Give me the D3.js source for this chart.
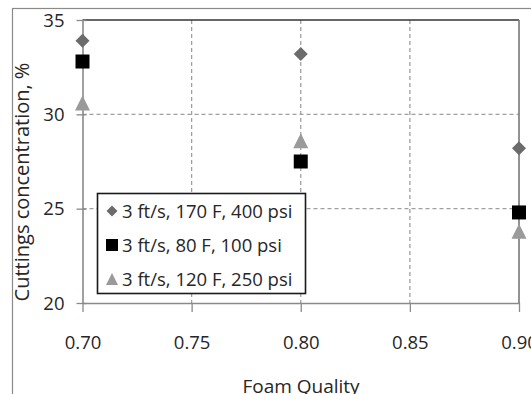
<!DOCTYPE html>
<html>
<head>
<meta charset="utf-8">
<script src="https://cdn.jsdelivr.net/npm/d3@7"></script>
<style>
  html, body { margin: 0; padding: 0; background: #fff; }
  svg { display: block; font-family: "Open Sans", "DejaVu Sans", sans-serif; }
</style>
</head>
<body>
<svg id="chart" width="531" height="394"></svg>
<script>
// Foam quality on the x axis, cuttings concentration (%) per test condition
const foamQuality = [0.70, 0.80, 0.90];
const seriesNames = [
  "3 ft/s, 170 F, 400 psi",
  "3 ft/s, 80 F, 100 psi",
  "3 ft/s, 120 F, 250 psi"
];
const conc170F = [33.9, 33.2, 28.2];
const conc80F = [32.8, 27.5, 24.8];
const conc120F = [30.6, 28.6, 23.8];
const xTicks = [0.70, 0.75, 0.80, 0.85, 0.90];
const yTicks = [20, 25, 30, 35];

const series = [
  { name: seriesNames[0], values: conc170F, shape: "diamond", color: "#6b6b6b" },
  { name: seriesNames[1], values: conc80F, shape: "square", color: "#000000" },
  { name: seriesNames[2], values: conc120F, shape: "triangle", color: "#9a9a9a" }
];

const svg = d3.select("#chart");
const plot = { left: 82.5, right: 519, top: 20, bottom: 303 };

const x = d3.scaleLinear().domain([0.70, 0.90]).range([plot.left, plot.right]);
const y = d3.scaleLinear().domain([20, 35]).range([plot.bottom, plot.top]);

// marker outlines centred on the origin
function markerPath(shape, s) {
  const h = s / 2;
  if (shape === "diamond") return `M0,${-h}L${h},0L0,${h}L${-h},0Z`;
  if (shape === "square") return `M${-h},${-h}H${h}V${h}H${-h}Z`;
  return `M0,${-h}L${h},${h}L${-h},${h}Z`;
}

// outer chart frame
svg.append("rect")
  .attr("x", 12.5).attr("y", 8.5)
  .attr("width", 560).attr("height", 420)
  .attr("fill", "none").attr("stroke", "#8a8a8a").attr("stroke-width", 1.2);

// dashed gridlines
svg.append("g").selectAll("line")
  .data(yTicks.filter(d => d > 20 && d < 35))
  .join("line")
  .attr("x1", plot.left).attr("x2", plot.right)
  .attr("y1", d => y(d)).attr("y2", d => y(d))
  .attr("stroke", "#a0a0a0").attr("stroke-width", 1.3)
  .attr("stroke-dasharray", "4,3");

svg.append("g").selectAll("line")
  .data(xTicks.filter(d => d > 0.70 && d < 0.90))
  .join("line")
  .attr("x1", d => x(d)).attr("x2", d => x(d))
  .attr("y1", plot.top).attr("y2", plot.bottom)
  .attr("stroke", "#a0a0a0").attr("stroke-width", 1.3)
  .attr("stroke-dasharray", "4,3");

// plot area border: top and right
svg.append("line")
  .attr("x1", plot.left).attr("x2", plot.right)
  .attr("y1", plot.top).attr("y2", plot.top)
  .attr("stroke", "#333").attr("stroke-width", 1.6);
svg.append("line")
  .attr("x1", plot.right).attr("x2", plot.right)
  .attr("y1", plot.top).attr("y2", plot.bottom)
  .attr("stroke", "#777").attr("stroke-width", 1.6);

// axes
const xAxis = d3.axisBottom(x).tickValues(xTicks).tickFormat(d3.format(".2f"))
  .tickSizeInner(9).tickSizeOuter(0).tickPadding(24);
const yAxis = d3.axisLeft(y).tickValues(yTicks).tickFormat(d3.format("d"))
  .tickSizeInner(6).tickSizeOuter(0).tickPadding(12);

const gx = svg.append("g").attr("transform", `translate(0,${plot.bottom})`).call(xAxis);
const gy = svg.append("g").attr("transform", `translate(${plot.left},0)`).call(yAxis);

[gx, gy].forEach(g => {
  g.select(".domain").attr("stroke", "#8a8a8a").attr("stroke-width", 1.6);
  g.selectAll(".tick line").attr("stroke", "#8a8a8a").attr("stroke-width", 1.3);
  g.selectAll(".tick text")
    .attr("fill", "#262626")
    .style("font-family", "'Open Sans', sans-serif")
    .style("font-size", "18.5px");
});
gy.selectAll(".tick line").attr("x2", 4).attr("x1", -6);
gy.selectAll(".tick text").attr("dy", "0.34em");

// axis titles
svg.append("text")
  .attr("transform", `translate(29,${182}) rotate(-90)`)
  .attr("text-anchor", "middle")
  .attr("fill", "#262626")
  .style("font-size", "20px")
  .text("Cuttings concentration, %");

svg.append("text")
  .attr("x", 301).attr("y", 393)
  .attr("text-anchor", "middle")
  .attr("fill", "#262626")
  .style("font-size", "19px")
  .text("Foam Quality");

// data markers
const sizes = { diamond: 14, square: 14, triangle: 15 };
series.forEach(s => {
  svg.append("g").selectAll("path")
    .data(foamQuality.map((q, i) => ({ q, v: s.values[i] })))
    .join("path")
    .attr("transform", d => `translate(${x(d.q)},${y(d.v)})`)
    .attr("d", markerPath(s.shape, sizes[s.shape]))
    .attr("fill", s.color);
});

// legend
const legend = svg.append("g");
legend.append("rect")
  .attr("x", 97.5).attr("y", 193.5)
  .attr("width", 208).attr("height", 100)
  .attr("fill", "#fff").attr("stroke", "#1a1a1a").attr("stroke-width", 1.6);

const legendSizes = { diamond: 11, square: 12, triangle: 12 };
const rowY = [211, 245, 279];
series.forEach((s, i) => {
  legend.append("path")
    .attr("transform", `translate(112,${rowY[i]})`)
    .attr("d", markerPath(s.shape, legendSizes[s.shape]))
    .attr("fill", s.color);
  legend.append("text")
    .attr("x", 122).attr("y", rowY[i])
    .attr("dy", "0.36em")
    .attr("fill", "#262626")
    .style("font-size", "18.5px")
    .text(s.name);
});
</script>
</body>
</html>
